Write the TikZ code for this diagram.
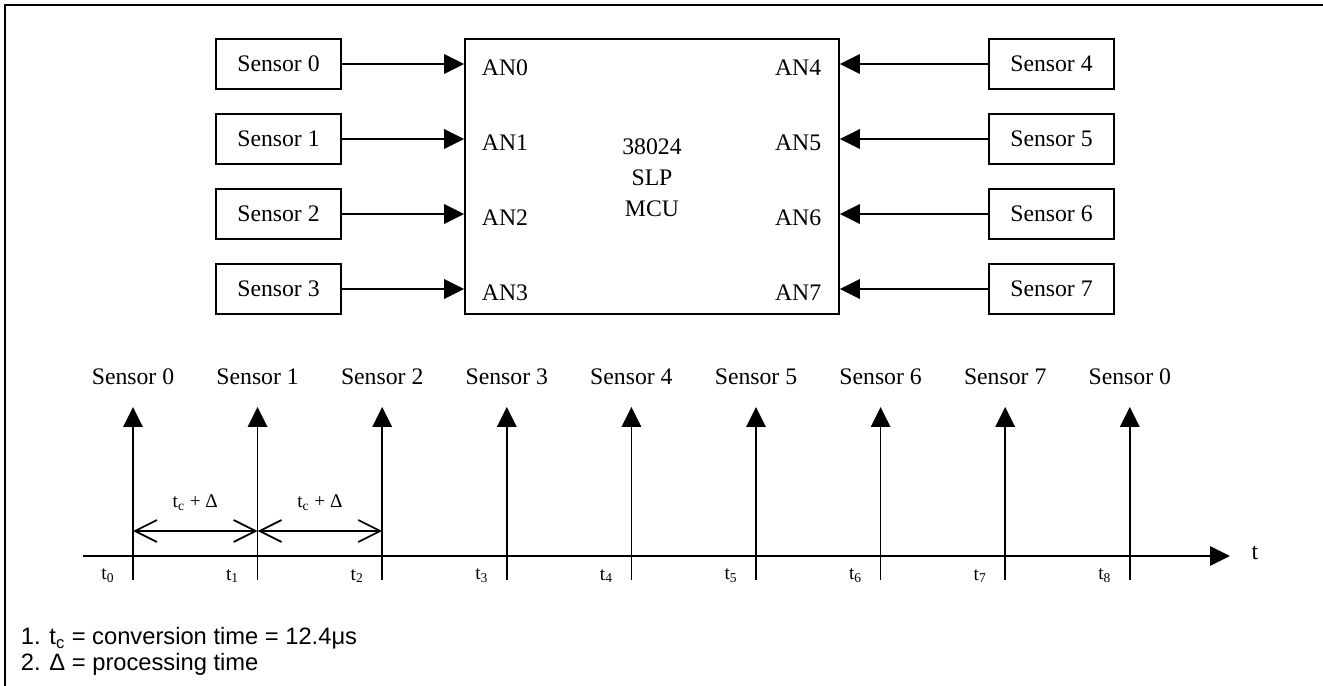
\documentclass[tikz,border=0pt]{standalone}
\usepackage{fontspec}
\setmainfont{Liberation Serif}
\newfontfamily\notefont{Liberation Sans}
\usetikzlibrary{arrows.meta, positioning, calc}

\begin{document}
\begin{tikzpicture}[
          x=0.02cm, y=-0.02cm,
          line width=1pt,
          sensor/.style={draw, minimum width=2.5cm, minimum height=1cm, inner sep=0pt,
                         font=\fontsize{13.5}{16}\selectfont},
          chip/.style={draw, minimum width=7.48cm, minimum height=5.5cm, inner sep=0pt},
          pin/.style={inner sep=0pt, font=\fontsize{13.5}{16}\selectfont},
          stamp/.style={inner sep=0pt, font=\fontsize{13.5}{16}\selectfont},
          tick/.style={inner sep=0pt, font=\fontsize{11}{13}\selectfont},
          span/.style={{Straight Barb[length=0.44cm, width=0.44cm]}-{Straight Barb[length=0.44cm, width=0.44cm]}},
          >={Triangle[length=0.4cm, width=0.39cm]}
        ]
        \useasboundingbox (0,0) rectangle (1323,686);
        \draw[line width=1.6pt] (5,686) -- (5,5) -- (1323,5);

        % MCU with the eight inputs
        \node[chip] (mcu) at (652,176.5) {};
        \node[align=center, font=\fontsize{13.5}{17.6}\selectfont] (core) at (652,178) {38024\\SLP\\MCU};
        \foreach \i in {0,...,3} {
          \node[sensor] (s\i) at (278.5,64+75*\i) {Sensor \i};
          \draw[->] (s\i.east) -- (s\i.east -| mcu.west);
          \node[pin, anchor=west] (an\i) at (481,68+75*\i) {AN\i};
        }
        \foreach \i in {4,...,7} {
          \node[sensor] (s\i) at (1051.5,64+75*\i-300) {Sensor \i};
          \draw[->] (s\i.west) -- (s\i.west -| mcu.east);
          \node[pin, anchor=east] (an\i) at (822,68+75*\i-300) {AN\i};
        }

        % time line
        \coordinate (tstart) at (83,556);
        \coordinate (tend) at (1230,556);
        \draw[->] (tstart) -- (tend);
        \node[stamp] (tname) at (1255,553) {t};
        \foreach \i/\s in {0/0,1/1,2/2,3/3,4/4,5/5,6/6,7/7,8/0} {
          \coordinate (b\i) at (133+124.6*\i,580);
          \coordinate (p\i) at (133+124.6*\i,407);
          \draw[->] (b\i) -- (p\i);
          \node[stamp] (n\i) at (133+124.6*\i,377) {Sensor \s};
          \node[tick] (tl\i) at (108+124.6*\i,576) {t\textsubscript{\i}};
        }
        \foreach \i/\j in {0/1,1/2} {
          \coordinate (d\i) at (b\i |- 0,531);
          \coordinate (e\i) at (b\j |- 0,531);
          \draw[span] (d\i) -- (e\i);
          \node[tick] (lab\i) at ($(d\i)!0.5!(e\i) + (0,-28)$) {t\textsubscript{c} + Δ};
        }

        % notes
        \node[anchor=west, inner sep=0pt, font=\notefont\fontsize{13.5}{16}\selectfont] (note1) at (20,638) {1. t\textsubscript{c} = conversion time = 12.4μs};
        \node[anchor=west, inner sep=0pt, font=\notefont\fontsize{13.5}{16}\selectfont] (note2) at (20,664) {2. Δ = processing time};
        \end{tikzpicture}
\end{document}
